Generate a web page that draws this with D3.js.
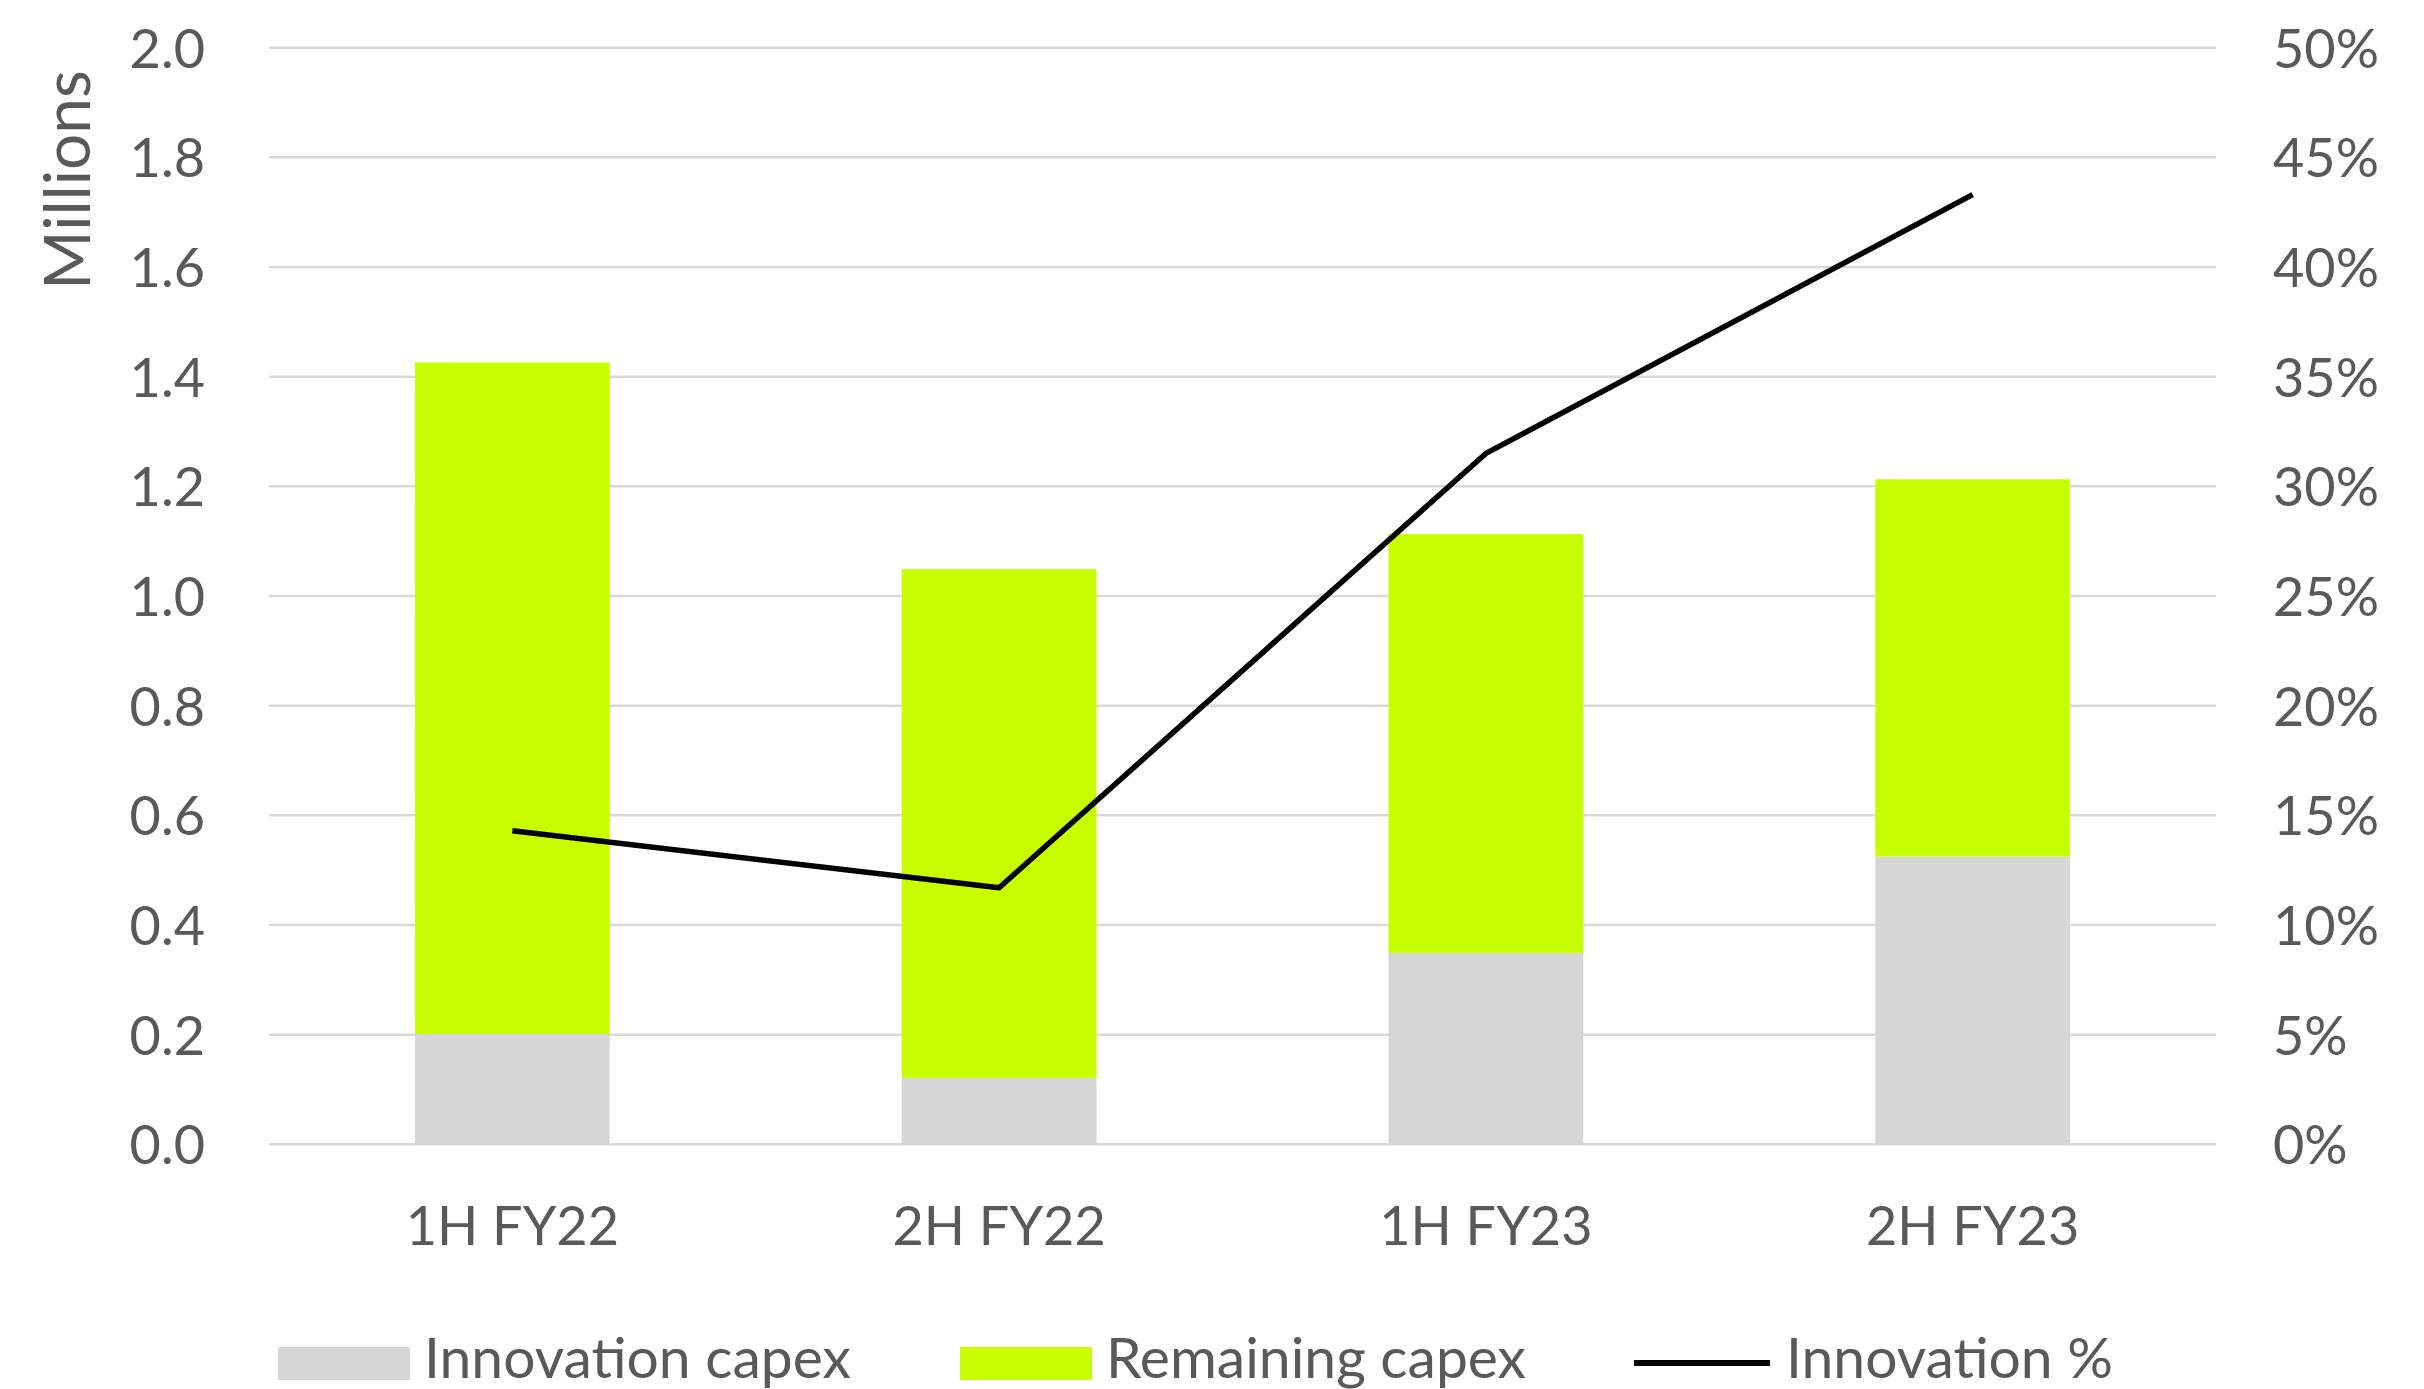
<!DOCTYPE html>
<html>
<head>
<meta charset="utf-8">
<script src="https://cdn.jsdelivr.net/npm/d3@7"></script>
<style>
  html, body { margin: 0; padding: 0; background: #fff; }
  svg { display: block; }
  text { font-family: Lato, "Open Sans", sans-serif; fill: #595959; }
</style>
</head>
<body>
<svg id="chart" width="2424" height="1389"></svg>
<script>
// ---- data ----
const categories = ["1H FY22", "2H FY22", "1H FY23", "2H FY23"];
const innovationCapex = [0.201, 0.121, 0.349, 0.525];   // millions
const remainingCapex  = [1.225, 0.928, 0.764, 0.688];   // millions (stacked on top)
const innovationPct   = [0.143, 0.117, 0.315, 0.433];   // right axis
const leftTicks  = [0, 0.2, 0.4, 0.6, 0.8, 1.0, 1.2, 1.4, 1.6, 1.8, 2.0];
const rightTicks = [0, 0.05, 0.10, 0.15, 0.20, 0.25, 0.30, 0.35, 0.40, 0.45, 0.50];
const seriesNames = ["Innovation capex", "Remaining capex", "Innovation %"];
const colors = { innovation: "#d6d6d6", remaining: "#c8ff00", line: "#000000", grid: "#d9d9d9" };

// ---- layout ----
const svg = d3.select("#chart");
const plot = { left: 269, right: 2216, top: 47.7, bottom: 1144.3 };

const x = d3.scaleBand().domain(categories).range([plot.left, plot.right])
  .paddingInner(0.6).paddingOuter(0.3);
const y = d3.scaleLinear().domain([0, 2]).range([plot.bottom, plot.top]);
const y2 = d3.scaleLinear().domain([0, 0.5]).range([plot.bottom, plot.top]);

// gridlines
svg.append("g")
  .selectAll("line").data(leftTicks).join("line")
  .attr("x1", plot.left).attr("x2", plot.right)
  .attr("y1", d => y(d)).attr("y2", d => y(d))
  .attr("stroke", colors.grid).attr("stroke-width", 2.5);

// left axis
const leftAxis = d3.axisLeft(y).tickValues(leftTicks).tickFormat(d3.format(".1f")).tickSize(0).tickPadding(64);
const gl = svg.append("g").attr("transform", `translate(${plot.left},0)`).call(leftAxis);
gl.select(".domain").remove();
gl.selectAll("text").style("font-size", "54px").attr("fill", "#595959").attr("dy", "0.36em");

// right axis
const rightAxis = d3.axisRight(y2).tickValues(rightTicks).tickFormat(d3.format(".0%")).tickSize(0).tickPadding(57);
const gr = svg.append("g").attr("transform", `translate(${plot.right},0)`).call(rightAxis);
gr.select(".domain").remove();
gr.selectAll("text").style("font-size", "54px").attr("fill", "#595959").attr("dy", "0.36em");

// y title
svg.append("text")
  .attr("transform", `translate(90,180) rotate(-90)`)
  .attr("text-anchor", "middle")
  .style("font-size", "64px")
  .text("Millions");

// bars
const bars = svg.append("g");
bars.selectAll("rect.inn").data(categories).join("rect")
  .attr("class", "inn")
  .attr("x", d => x(d)).attr("width", x.bandwidth())
  .attr("y", (d, i) => y(innovationCapex[i]))
  .attr("height", (d, i) => y(0) - y(innovationCapex[i]))
  .attr("fill", colors.innovation);
bars.selectAll("rect.rem").data(categories).join("rect")
  .attr("class", "rem")
  .attr("x", d => x(d)).attr("width", x.bandwidth())
  .attr("y", (d, i) => y(innovationCapex[i] + remainingCapex[i]))
  .attr("height", (d, i) => y(innovationCapex[i]) - y(innovationCapex[i] + remainingCapex[i]))
  .attr("fill", colors.remaining);

// line
const line = d3.line()
  .x((d, i) => x(categories[i]) + x.bandwidth() / 2)
  .y(d => y2(d));
svg.append("path").datum(innovationPct)
  .attr("d", line).attr("fill", "none")
  .attr("stroke", colors.line).attr("stroke-width", 5.5)
  .attr("stroke-linejoin", "round");

// x labels
const gx = svg.append("g").attr("transform", `translate(0,${plot.bottom})`)
  .call(d3.axisBottom(x).tickSize(0).tickPadding(0));
gx.select(".domain").remove();
gx.selectAll("text").style("font-size", "54px").attr("fill", "#595959").attr("y", 101).attr("dy", 0);

// legend
const legendX = [278, 960, 1634];
const lg = svg.append("g");
const swW = 132;
seriesNames.forEach((name, i) => {
  const g = lg.append("g").attr("transform", `translate(${legendX[i]},0)`);
  if (i < 2) {
    g.append("rect").attr("x", 0).attr("y", 1347).attr("width", swW).attr("height", 33)
      .attr("fill", i === 0 ? colors.innovation : colors.remaining);
  } else {
    g.append("line").attr("x1", 0).attr("x2", 136).attr("y1", 1363).attr("y2", 1363)
      .attr("stroke", colors.line).attr("stroke-width", 6);
  }
  g.append("text").attr("x", i < 2 ? swW + 14 : 152).attr("y", 1378)
    .style("font-size", "57px").text(name);
});
</script>
</body>
</html>
